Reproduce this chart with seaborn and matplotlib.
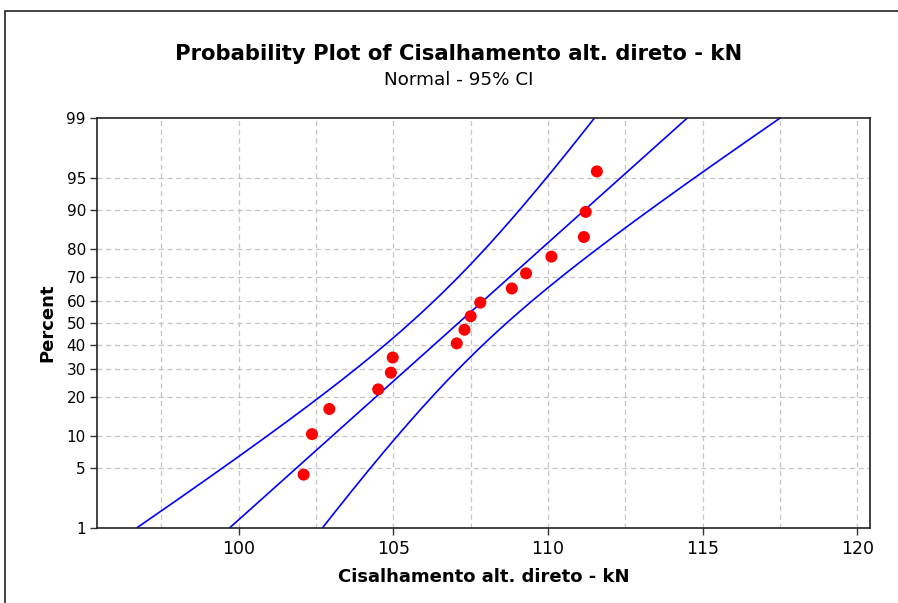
import numpy as np
import pandas as pd
import seaborn as sns
import matplotlib
matplotlib.use("Agg")
import matplotlib.pyplot as plt
from matplotlib.patches import Rectangle
from statistics import NormalDist

# ---- data ----
shear_kN = [102.10, 102.37, 102.93, 104.51, 104.92, 104.98, 107.05, 107.30,
            107.50, 107.81, 108.83, 109.29, 110.11, 111.16, 111.22, 111.58]
percent_ticks = [1, 5, 10, 20, 30, 40, 50, 60, 70, 80, 90, 95, 99]
x_major_ticks = [100, 105, 110, 115, 120]
x_grid_ticks = [97.5, 100, 102.5, 105, 107.5, 110, 112.5, 115, 117.5, 120]
title = "Probability Plot of Cisalhamento alt. direto - kN"
subtitle = "Normal - 95% CI"
xlabel = "Cisalhamento alt. direto - kN"
ylabel = "Percent"

nd = NormalDist()
x = np.sort(np.array(shear_kN))
n = len(x)
ranks = np.arange(1, n + 1)
p = (ranks - 0.3) / (n + 0.4)              # median ranks
z_pts = np.array([nd.inv_cdf(v) for v in p])

mu = x.mean()
sigma = x.std(ddof=1)
zz = np.linspace(-3.2, 3.2, 400)
fit = mu + zz * sigma
half = 1.96 * sigma * np.sqrt((1 + zz ** 2 / 2) / n)
lines = pd.DataFrame({"z": np.concatenate([zz, zz, zz]),
                      "x": np.concatenate([fit - half, fit, fit + half]),
                      "which": ["lo"] * len(zz) + ["fit"] * len(zz) + ["hi"] * len(zz)})
pts = pd.DataFrame({"x": x, "z": z_pts})

sns.set_style("white")
plt.rcParams["font.family"] = ["DejaVu Sans"]
plt.rcParams["text.color"] = "black"

fig = plt.figure(figsize=(8.98, 6.03), dpi=100)
ax = fig.add_axes([97 / 898, 1 - 528 / 603, (870 - 97) / 898, (528 - 118) / 603])

for w in ["lo", "fit", "hi"]:
    d = lines[lines["which"] == w]
    sns.lineplot(data=d, x="x", y="z", sort=False, estimator=None, ax=ax,
                 color="#0000ff", lw=1.2)
sns.scatterplot(data=pts, x="x", y="z", ax=ax, color="#ff0000", s=75,
                edgecolor="none", zorder=5)

zlim = (nd.inv_cdf(0.01), nd.inv_cdf(0.99))
ax.set_ylim(*zlim)
ax.set_xlim(95.42, 120.41)

# grid
for gx in x_grid_ticks:
    ax.axvline(gx, color="#c4c4c4", lw=0.9, dashes=(4, 3), zorder=0)
for pt in percent_ticks[1:-1]:
    ax.axhline(nd.inv_cdf(pt / 100), color="#c4c4c4", lw=0.9, dashes=(4, 3), zorder=0)

ax.set_yticks([nd.inv_cdf(v / 100) for v in percent_ticks])
ax.set_yticklabels([str(v) for v in percent_ticks])
ax.set_xticks(x_major_ticks)
ax.set_xticklabels([str(v) for v in x_major_ticks])
ax.tick_params(axis="both", direction="out", length=5, width=1, color="#333333",
               labelcolor="black", pad=3, left=True, bottom=True)
ax.tick_params(axis="y", labelsize=11)
ax.tick_params(axis="x", labelsize=12.5, pad=4)
for s in ax.spines.values():
    s.set_color("#222222")
    s.set_linewidth(1.2)

ax.set_xlabel(xlabel, fontsize=13, fontweight="bold", color="black")
ax.set_ylabel(ylabel, fontsize=13, fontweight="bold", color="black")
ax.xaxis.set_label_coords(0.5, -0.097)
ax.yaxis.set_label_coords(-0.052, 0.5)

fig.text(459 / 898, 1 - 54 / 603, title, ha="center", va="center",
         fontsize=15.2, fontweight="bold", color="black")
fig.text(459 / 898, 1 - 80 / 603, subtitle, ha="center", va="center",
         fontsize=13.2, color="black")

fig.patches.append(Rectangle((5 / 898, -0.1), 1.2, 1 - 11 / 603 + 0.1,
                             transform=fig.transFigure, fill=False,
                             edgecolor="#222222", lw=1.2))

fig.savefig("out.png", dpi=100)
